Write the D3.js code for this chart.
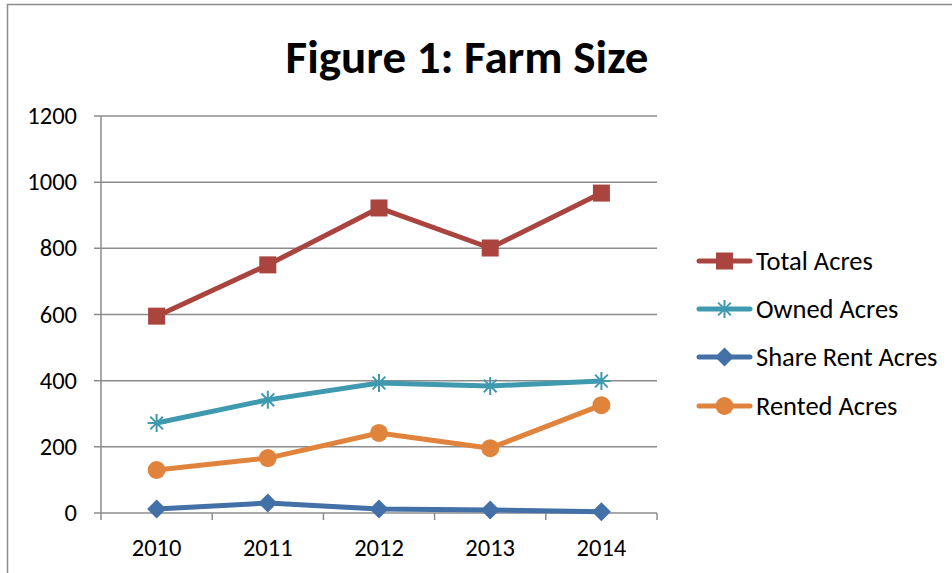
<!DOCTYPE html>
<html>
<head>
<meta charset="utf-8">
<script src="https://cdn.jsdelivr.net/npm/d3@7"></script>
<style>
  body { margin: 0; background: #fff; }
  text { font-family: Carlito, Calibri, Lato, sans-serif; fill: #000; }
</style>
</head>
<body>
<div id="chart"></div>
<script>
// data
var years = ["2010", "2011", "2012", "2013", "2014"];
var totalAcres = [595, 750, 922, 801, 967];
var ownedAcres = [272, 342, 393, 384, 399];
var shareRentAcres = [12, 30, 12, 9, 4];
var rentedAcres = [130, 166, 242, 196, 326];
var yTicks = [0, 200, 400, 600, 800, 1000, 1200];

var series = [
  { name: "Total Acres", values: totalAcres, color: "#A9443F", marker: "square" },
  { name: "Owned Acres", values: ownedAcres, color: "#3F9AB0", marker: "star" },
  { name: "Share Rent Acres", values: shareRentAcres, color: "#4470A8", marker: "diamond" },
  { name: "Rented Acres", values: rentedAcres, color: "#E0833C", marker: "circle" }
];

var W = 952, H = 573;
var plot = { left: 101, right: 657, top: 116, bottom: 513 };

var svg = d3.select("#chart").append("svg").attr("width", W).attr("height", H);

// outer chart frame
svg.append("rect").attr("x", 7.5).attr("y", 4.5).attr("width", W + 20).attr("height", H + 20)
  .attr("fill", "#fff").attr("stroke", "#8c8c8c").attr("stroke-width", 1.5);

function label(g, x, y, str, size, anchor, weight) {
  var t = g.append("text").attr("x", x).attr("y", y)
    .attr("text-anchor", anchor).attr("dominant-baseline", "central")
    .style("font-size", size + "px").text(str);
  if (weight) t.style("font-weight", weight);
  return t;
}

// title
label(svg, 467, 57, "Figure 1: Farm Size", 47, "middle", "bold");

var ys = d3.scaleLinear().domain([0, 1200]).range([plot.bottom, plot.top]);
var xb = d3.scaleBand().domain(years).range([plot.left, plot.right]);
var xs = d3.scalePoint().domain(years).range([plot.left, plot.right]).padding(0.5);

// gridlines + y tick labels
yTicks.forEach(function (v) {
  svg.append("line").attr("x1", plot.left - 7).attr("x2", plot.right)
    .attr("y1", ys(v)).attr("y2", ys(v))
    .attr("stroke", "#8c8c8c").attr("stroke-width", 1.5);
  label(svg, 77, ys(v), v, 24.5, "end");
});

// y axis line
svg.append("line").attr("x1", plot.left).attr("x2", plot.left)
  .attr("y1", plot.top).attr("y2", plot.bottom + 7)
  .attr("stroke", "#8c8c8c").attr("stroke-width", 1.5);

// x tick marks at category boundaries
years.forEach(function (y) {
  var x = xb(y) + xb.bandwidth();
  svg.append("line").attr("x1", x).attr("x2", x)
    .attr("y1", plot.bottom).attr("y2", plot.bottom + 7)
    .attr("stroke", "#8c8c8c").attr("stroke-width", 1.5);
  label(svg, xs(y), 548, y, 24.5, "middle");
});

function drawMarker(g, type, x, y, color) {
  if (type == "square") {
    g.append("rect").attr("x", x - 8.5).attr("y", y - 8.5).attr("width", 17).attr("height", 17).attr("fill", color);
  } else if (type == "circle") {
    g.append("circle").attr("cx", x).attr("cy", y).attr("r", 9).attr("fill", color);
  } else if (type == "diamond") {
    g.append("path").attr("d", "M" + x + "," + (y - 9.5) + "L" + (x + 9.5) + "," + y + "L" + x + "," + (y + 9.5) + "L" + (x - 9.5) + "," + y + "Z")
      .attr("fill", color);
  } else if (type == "star") {
    var r = 9, d = "";
    [0, 45, 90, 135].forEach(function (a) {
      var rad = a * Math.PI / 180;
      d += "M" + (x - r * Math.cos(rad)) + "," + (y - r * Math.sin(rad)) + "L" + (x + r * Math.cos(rad)) + "," + (y + r * Math.sin(rad));
    });
    g.append("path").attr("d", d).attr("stroke", color).attr("stroke-width", 2).attr("fill", "none");
  }
}

var line = d3.line().x(function (d, i) { return xs(years[i]); }).y(function (d) { return ys(d); });

// draw in reverse so Total sits on top
series.slice().reverse().forEach(function (s) {
  var g = svg.append("g");
  g.append("path").datum(s.values).attr("d", line)
    .attr("fill", "none").attr("stroke", s.color).attr("stroke-width", 5)
    .attr("stroke-linejoin", "round").attr("stroke-linecap", "round");
  s.values.forEach(function (v, i) { drawMarker(g, s.marker, xs(years[i]), ys(v), s.color); });
});

// legend
var legY = [261, 309, 357, 406];
series.forEach(function (s, i) {
  var g = svg.append("g");
  g.append("line").attr("x1", 699).attr("x2", 750).attr("y1", legY[i]).attr("y2", legY[i])
    .attr("stroke", s.color).attr("stroke-width", 5).attr("stroke-linecap", "round");
  drawMarker(g, s.marker, 724.5, legY[i], s.color);
  label(g, 756, legY[i], s.name, 26.5, "start");
});
</script>
</body>
</html>
